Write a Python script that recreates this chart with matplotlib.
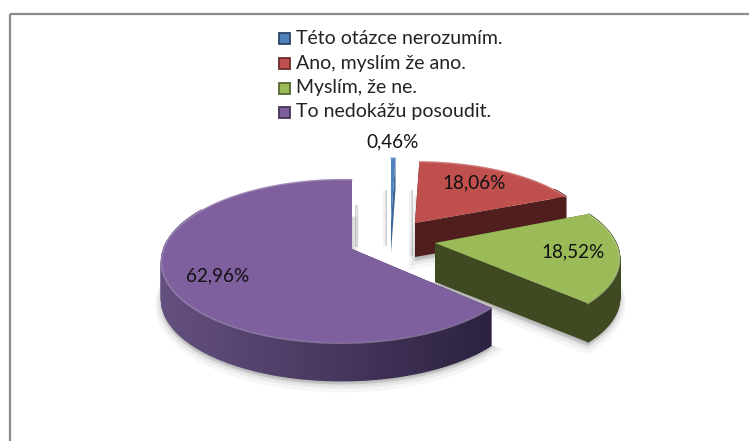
import numpy as np
import matplotlib
matplotlib.use("Agg")
import matplotlib.pyplot as plt
from matplotlib.colors import to_rgb

labels = ['Této otázce nerozumím.', 'Ano, myslím že ano.', 'Myslím, že ne.', 'To nedokážu posoudit.']
values = [0.46, 18.06, 18.52, 62.96]
value_labels = ['0,46%', '18,06%', '18,52%', '62,96%']

top_colors = ['#4F81BD', '#C0504D', '#9BBB59', '#7F609E']
side_left = ['#2A4A70', '#501F1D', '#3F4A23', '#64507F']
side_right = ['#2A4A70', '#501F1D', '#3F4A23', '#2C2140']
cut_colors = ['#3A6595', '#501F1D', '#3F4A23', '#2F2444']

# apex x, apex y, radius x, radius y, perspective b, perspective c, shear
geometry = [
    (391, 222, 180, 74, 0.15, 0.0, 0),
    (415, 223, 174, 71, 0.15, 0.0, 0),
    (435, 243, 181, 78, 0.16, 0.0, -7),
    (352, 249, 179, 80, 0.145, 0.05, 0),
]
depths = [31, 34, 39, 38]
label_pos = [(393, 142), (474, 183), (573, 252), (218, 276)]
# x, y top, y bottom of the soft shadows beside the cut edges
cut_shadows = [(355, 205, 247, 1), (387, 190, 246, -1), (413, 190, 256, -1)]


def project(angle, radius, geo):
    # angle is clockwise from 12 o'clock, radius 0..1
    ax_, ay_, rx, ry, b, c, s = geo
    X = radius * np.sin(angle)
    Y = radius * np.cos(angle)
    w = 1 + b * Y + c * X
    return ax_ + rx * X / w + s * Y, ay_ - ry * Y / w


fig = plt.figure(figsize=(7.49, 4.41), dpi=100)
ax = fig.add_axes([0, 0, 1, 1])
ax.set_xlim(0, 749)
ax.set_ylim(441, 0)
ax.axis('off')

# frame of the chart
ax.plot([9.5, 749], [14.2, 14.2], color='#8C8C8C', lw=1.6, solid_capstyle='butt')
ax.plot([9.5, 9.5], [14, 441], color='#8C8C8C', lw=1.6, solid_capstyle='butt')

for x, y0, y1, side in cut_shadows:
    for width, alpha in [(4, 0.05), (2.5, 0.07), (1.2, 0.08)]:
        ax.fill([x, x + side * width, x + side * width, x], [y0, y0, y1, y1], color='black', alpha=alpha, lw=0, zorder=1)

fracs = np.array(values) / sum(values)
ends = np.cumsum(fracs) * 2 * np.pi
starts = ends - fracs * 2 * np.pi

for i in [0, 1, 2, 3]:
    geo = geometry[i]
    d = depths[i]
    t = np.linspace(starts[i], ends[i], 160)
    px, py = project(t, 1.0, geo)
    apx, apy = geo[0], geo[1]
    outline_x = np.r_[apx, px]
    outline_y = np.r_[apy, py]

    # soft shadow under the slice
    if i > 0:
        for grow, alpha in [(9, 0.035), (6, 0.05), (3, 0.07)]:
            ax.fill(outline_x, outline_y + d + grow * 0.6, color='black', alpha=alpha, lw=grow, zorder=i * 10)

    # cut faces
    z = i * 10 + 1
    ax.fill([apx, px[0], px[0], apx], [apy, py[0], py[0] + d, apy + d], color=cut_colors[i], lw=0, zorder=z)
    ax.fill([apx, px[-1], px[-1], apx], [apy, py[-1], py[-1] + d, apy + d], color=cut_colors[i], lw=0, zorder=z)

    # outer wall, only the part that faces the viewer, shaded left to right
    c1, c2 = np.array(to_rgb(side_left[i])), np.array(to_rgb(side_right[i]))
    lo, hi = px.min(), px.max()
    for k in range(len(t) - 1):
        if py[k] + d < apy and i != 2:
            continue
        m = (0.5 * (px[k] + px[k + 1]) - lo) / max(hi - lo, 1)
        col = c1 + (c2 - c1) * m
        ax.fill([px[k], px[k + 1], px[k + 1], px[k]],
                [py[k], py[k + 1], py[k + 1] + d, py[k] + d],
                facecolor=col, edgecolor=col, lw=1.0, zorder=z + 1)

    # top face with a light rim along the arc
    ax.fill(outline_x, outline_y, color=top_colors[i], lw=0, zorder=z + 2)
    rim = np.array(to_rgb(top_colors[i])) * 0.6 + 0.4
    ax.plot(px, py + 0.5, color=rim, lw=1.1, alpha=0.55, zorder=z + 3)

# legend
rows = [38, 63, 88, 112]
for name, col, y in zip(labels, top_colors, rows):
    dark = np.array(to_rgb(col)) * 0.55
    ax.fill([279, 290, 290, 279], [y - 5.5, y - 5.5, y + 5.5, y + 5.5], facecolor=col, edgecolor=dark, lw=1.3, zorder=60)
    ax.text(296, y, name, fontsize=14, family='Lato', color='#222222', va='center', ha='left', zorder=60)

for txt, (x, y) in zip(value_labels, label_pos):
    ax.text(x, y, txt, fontsize=13.6, family='Lato', color='#111111', va='center', ha='center', zorder=70)

fig.savefig('out.png', dpi=100, facecolor='white')
